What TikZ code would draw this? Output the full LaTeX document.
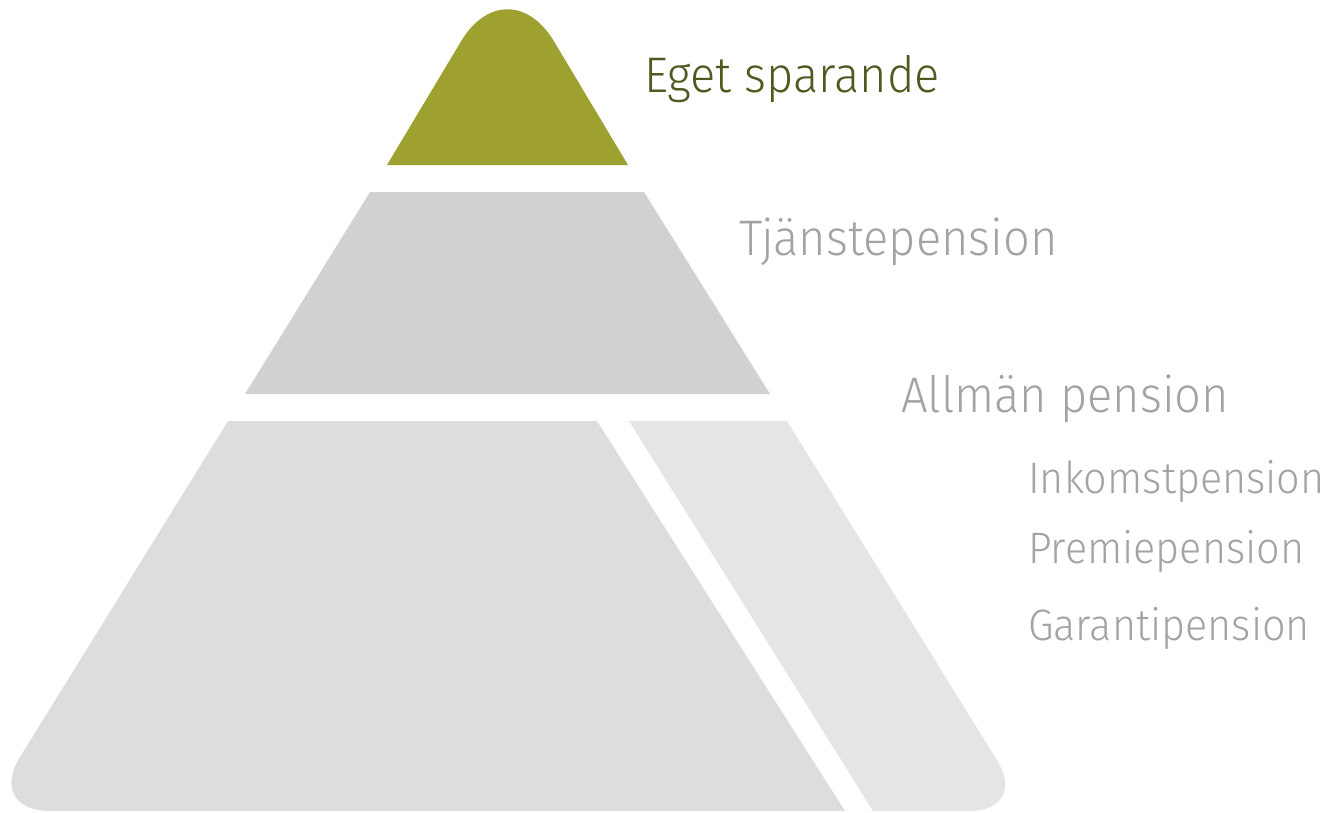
\documentclass[tikz,border=0pt]{standalone}
\usepackage{fontspec}
\setmainfont{Fira Sans}[UprightFont={* Light}, FakeStretch=0.94]
\definecolor{greenfill}{HTML}{9EA030}
\definecolor{greentext}{HTML}{4E5A1F}
\definecolor{midgray}{HTML}{D1D1D1}
\definecolor{lowgray}{HTML}{DDDDDD}
\definecolor{lowgrayR}{HTML}{E5E5E5}
\definecolor{labgray}{HTML}{A3A3A3}
\tikzset{
  mainlab/.style={anchor=base west, inner sep=0pt, text=labgray, font=\fontsize{50}{50}\selectfont},
  sublab/.style={anchor=base west, inner sep=0pt, text=labgray, font=\fontsize{44}{44}\selectfont},
}
\begin{document}
\begin{tikzpicture}[x=1pt,y=-1pt]
\useasboundingbox (0,0) rectangle (1332,812);
% top (green)
\fill[greenfill] (387,165) -- (461.2,41.1) .. controls (486.7,-1.3) and (528.3,-1.3) .. (553.8,41.1) -- (628,165) -- cycle;
% middle
\fill[midgray] (370,192) -- (644,192) -- (770,394) -- (245,394) -- cycle;
% bottom main
\fill[lowgray] (228,421) -- (597,421) -- (845,811) -- (50,811) .. controls (14.8,811) and (1.2,787.5) .. (19.7,757.6) -- cycle;
% bottom right
\fill[lowgrayR] (629,421) -- (787,421) -- (997.4,761) .. controls (1014.8,789) and (1002,811) .. (969,811) -- (873,811) -- cycle;
% labels
\node[mainlab, text=greentext] (eget) at (644,92) {Eget sparande};
\node[mainlab] (tjanst) at (739,255) {Tjänstepension};
\node[mainlab] (allman) at (901,412) {Allmän pension};
\node[sublab] (inkomst) at (1028,493) {Inkomstpension};
\node[sublab] (premie) at (1028,563) {Premiepension};
\node[sublab] (garanti) at (1028,640) {Garantipension};
\end{tikzpicture}
\end{document}
